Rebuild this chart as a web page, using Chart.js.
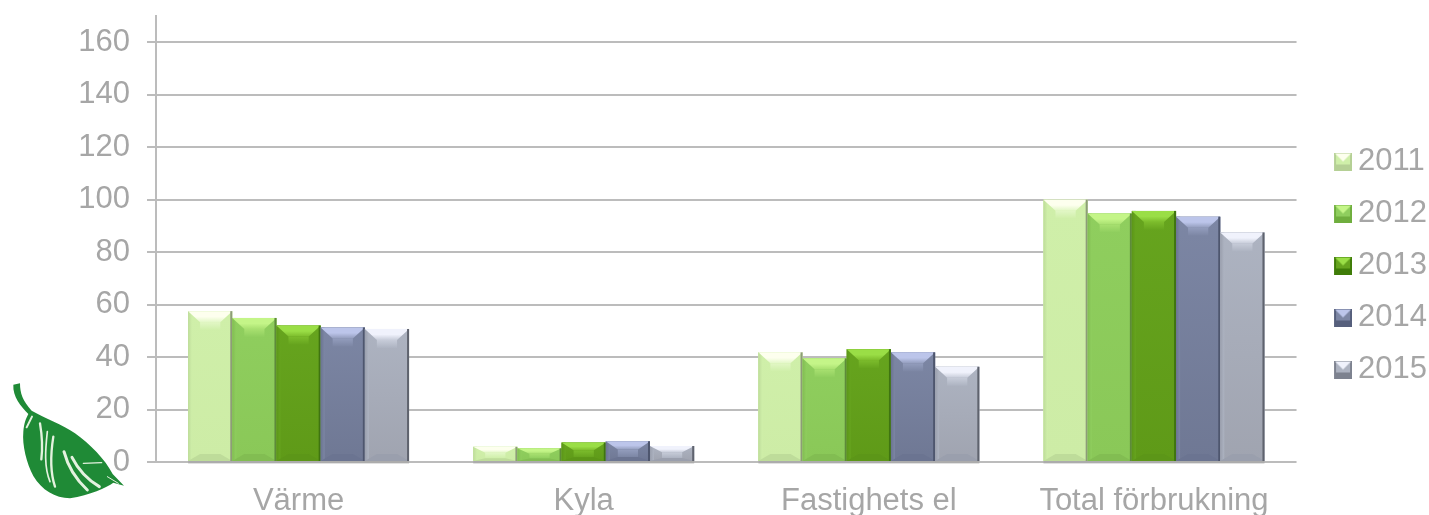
<!DOCTYPE html>
<html>
<head>
<meta charset="utf-8">
<style>
  html, body { margin: 0; padding: 0; background: #fff; }
  #wrap { position: relative; width: 1429px; height: 515px; overflow: hidden; }
  #leaf { position: absolute; left: 0; top: 0; }
</style>
<script src="https://cdn.jsdelivr.net/npm/chart.js@4"></script>
</head>
<body>
<div id="wrap">
  <canvas id="energyChart" width="1429" height="515"></canvas>
  <svg id="leaf" width="1429" height="515">
    <g transform="translate(0,370) scale(0.3333)">
      <path fill="#1f8a36" d="M40 44 L60 40 C60 70 68 92 95 122 C130 142 190 165 225 190 C270 222 315 268 338 312 L372 347 L340 338 C320 352 270 376 210 385 C165 384 125 360 100 318 C80 280 66 225 70 185 C72 160 78 145 85 132 C62 108 38 80 40 44 Z"/>
      <g fill="none" stroke="#e4f2df" stroke-linecap="round">
        <path stroke-width="6" d="M96 140 L80 172"/>
        <path stroke-width="7" d="M120 160 C126 195 128 235 124 268"/>
        <path stroke-width="5" d="M142 185 C136 240 132 290 150 335"/>
        <path stroke-width="7" d="M160 200 C152 250 148 300 165 350"/>
        <path stroke-width="9" d="M192 245 C205 295 235 335 262 360"/>
        <path stroke-width="9" d="M216 262 C235 300 265 330 298 350"/>
        <path stroke-width="4" d="M250 280 L305 278"/>
        <path stroke-width="3" d="M322 320 L355 340"/>
      </g>
    </g>
  </svg>
</div>
<script>
const categories = ["Värme", "Kyla", "Fastighets el", "Total förbrukning"];
const years = ["2011", "2012", "2013", "2014", "2015"];
const values2011 = [57.5, 5.8, 41.8, 100];
const values2012 = [54.9, 5.2, 39.5, 94.7];
const values2013 = [52, 7.4, 43, 95.7];
const values2014 = [51.3, 7.9, 41.8, 93.5];
const values2015 = [50.7, 6.1, 36.3, 87.5];
const seriesValues = [values2011, values2012, values2013, values2014, values2015];

const faceColors = ["#cfefa9", "#8fce5e", "#66a41e", "#7c86a4", "#adb3c1"];
const lowColors = ["#cdeca6", "#8ac858", "#5f9a18", "#6f7894", "#a0a4b0"];
const topColors = ["#fdffee", "#c4f588", "#9ade46", "#bcc5ea", "#f0f2fc"];
const midColors = ["#e2f7c6", "#a8e070", "#7cbc2c", "#939dbd", "#c7ccd9"];
const bottomColors = ["#bedc9a", "#82bd52", "#5c9618", "#6b7491", "#9a9fad"];
const edgeColors = ["#8d9c78", "#5d8a3a", "#3f7410", "#4e566e", "#5f636e"];
const swatchColors = ["#b5d095", "#6fae3e", "#3f7c08", "#565f7c", "#7d828f"];
const textColor = "#a6a6a6";
const lineColor = "#bcbcbc";

// bevelled face of one bar
function drawBevel(ctx, x, y, w, h, i) {
  const depth = Math.min(11, h * 0.42);
  const foot = Math.min(7, h * 0.2);
  const inset = Math.min(12, w * 0.28);

  let face = ctx.createLinearGradient(0, y, 0, y + h);
  face.addColorStop(0, faceColors[i]);
  face.addColorStop(1, lowColors[i]);
  ctx.fillStyle = face;
  ctx.fillRect(x, y, w, h);

  let side = ctx.createLinearGradient(x, 0, x + 4, 0);
  side.addColorStop(0, bottomColors[i]);
  side.addColorStop(1, faceColors[i]);
  ctx.fillStyle = side;
  ctx.fillRect(x, y, 4, h);

  let g = ctx.createLinearGradient(0, y, 0, y + depth);
  g.addColorStop(0, topColors[i]);
  g.addColorStop(0.5, topColors[i]);
  g.addColorStop(1, midColors[i]);
  ctx.fillStyle = g;
  ctx.beginPath();
  ctx.moveTo(x, y);
  ctx.lineTo(x + w, y);
  ctx.lineTo(x + w - inset, y + depth);
  ctx.lineTo(x + inset, y + depth);
  ctx.closePath();
  ctx.fill();

  // soft fade under the top bevel
  const fade = Math.min(8, h - depth - foot);
  if (fade > 0) {
    let f = ctx.createLinearGradient(0, y + depth, 0, y + depth + fade);
    f.addColorStop(0, midColors[i]);
    f.addColorStop(1, faceColors[i]);
    ctx.fillStyle = f;
    ctx.fillRect(x + inset, y + depth, w - 2 * inset, fade);
  }

  ctx.fillStyle = bottomColors[i];
  ctx.beginPath();
  ctx.moveTo(x, y + h);
  ctx.lineTo(x + w, y + h);
  ctx.lineTo(x + w - inset, y + h - foot);
  ctx.lineTo(x + inset, y + h - foot);
  ctx.closePath();
  ctx.fill();

  ctx.fillStyle = edgeColors[i];
  ctx.fillRect(x + w - 2, y, 2, h);
}

// the canvas is wider than the swatch so that it sits close to its text
function makeSwatch(i) {
  const c = document.createElement("canvas");
  c.width = 44;
  c.height = 18;
  const ctx = c.getContext("2d");
  ctx.fillStyle = swatchColors[i];
  ctx.fillRect(26, 0, 18, 18);
  ctx.fillStyle = faceColors[i];
  ctx.fillRect(28, 1, 14, 11);
  ctx.fillStyle = topColors[i];
  ctx.beginPath();
  ctx.moveTo(27, 1);
  ctx.lineTo(43, 1);
  ctx.lineTo(35, 9);
  ctx.closePath();
  ctx.fill();
  return c;
}

const bevelPlugin = {
  id: "bevel",
  afterDatasetsDraw(chart) {
    const ctx = chart.ctx;
    ctx.save();
    chart.data.datasets.forEach((ds, i) => {
      chart.getDatasetMeta(i).data.forEach((bar) => {
        const left = bar.x - bar.width / 2;
        ctx.fillStyle = "rgba(120,120,120,0.22)";
        ctx.fillRect(left, bar.base, bar.width, 3);
        drawBevel(ctx, left, bar.y, bar.width, bar.base - bar.y, i);
      });
    });
    ctx.restore();
  },
};

new Chart(document.getElementById("energyChart").getContext("2d"), {
  type: "bar",
  plugins: [bevelPlugin],
  data: {
    labels: categories,
    datasets: years.map((year, i) => ({
      label: year,
      data: seriesValues[i],
      backgroundColor: faceColors[i],
      borderWidth: 0,
      categoryPercentage: 0.775,
      barPercentage: 1,
    })),
  },
  options: {
    responsive: false,
    animation: false,
    layout: { padding: { left: 0, right: -8, top: 16, bottom: 0 } },
    plugins: {
      tooltip: { enabled: false },
      legend: {
        position: "right",
        labels: {
          color: textColor,
          font: { family: "Liberation Sans", size: 31 },
          usePointStyle: true,
          boxHeight: 18,
          pointStyleWidth: 25,
          padding: 21,
          generateLabels(chart) {
            return years.map((year, i) => ({
              text: year,
              datasetIndex: i,
              pointStyle: makeSwatch(i),
              fontColor: textColor,
              lineWidth: 0,
            }));
          },
        },
      },
    },
    scales: {
      x: {
        afterFit(scale) {
          scale.height = 53;
          scale.paddingLeft = 0;
          scale.paddingRight = 0;
        },
        ticks: {
          color: textColor,
          font: { family: "Liberation Sans", size: 31 },
          maxRotation: 0,
          padding: 13,
        },
        grid: { display: false },
        border: { display: false },
      },
      y: {
        min: 0,
        max: 170,
        afterFit(scale) {
          scale.width = 156;
          scale.paddingTop = 0;
          scale.paddingBottom = 0;
        },
        ticks: {
          stepSize: 20,
          includeBounds: false,
          color: textColor,
          font: { family: "Liberation Sans", size: 31 },
          padding: 17,
        },
        grid: { color: lineColor, lineWidth: 2, tickLength: 9 },
        border: { color: lineColor, width: 2 },
      },
    },
  },
});
</script>
</body>
</html>
